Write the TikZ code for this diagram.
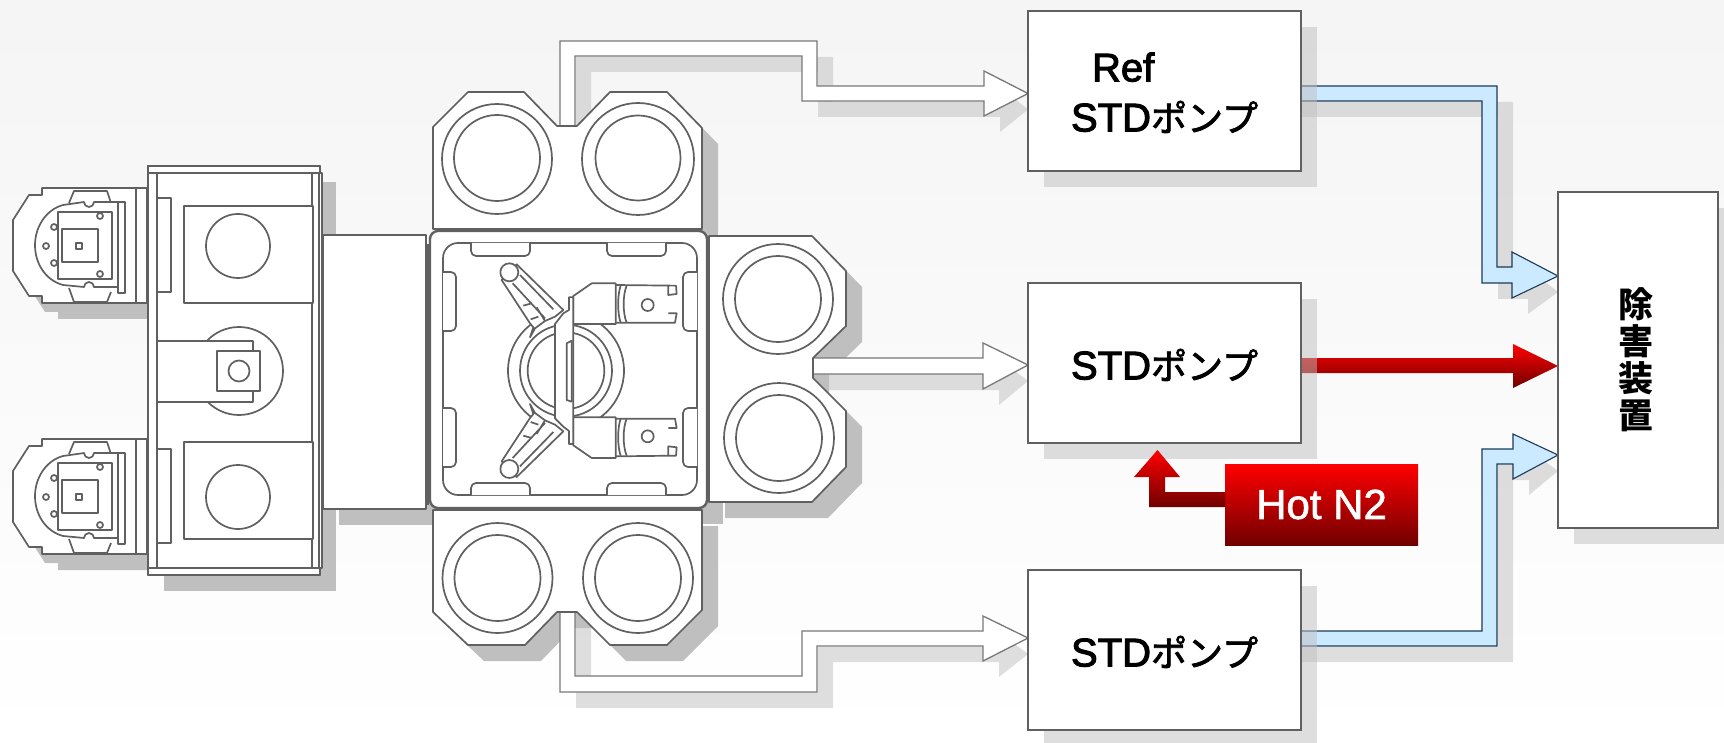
\documentclass[tikz,border=0pt]{standalone}
\usepackage{fontspec}
\usetikzlibrary{calc}
\setmainfont{Liberation Sans}
\newfontfamily\jpf{Noto Sans CJK JP}
\newfontfamily\jpm[FakeBold=2.2]{Noto Sans CJK JP}
\newfontfamily\latf[FakeBold=2.5]{Liberation Sans}
\newfontfamily\hotf[FakeBold=1.5]{Liberation Sans}
\definecolor{shgray}{HTML}{BFBFBF}
\definecolor{ml}{HTML}{606060}
\definecolor{bluef}{HTML}{CBE9FF}
\definecolor{bluel}{HTML}{1C3A58}
\definecolor{arrl}{HTML}{787878}
\definecolor{darkr}{HTML}{700000}
\pgfdeclarelayer{back}
\pgfdeclarelayer{arrowsh}
\pgfdeclarelayer{machsh}
\pgfdeclarelayer{arr}
\pgfdeclarelayer{boxsh}
\pgfsetlayers{back,arrowsh,machsh,arr,boxsh,main}
\tikzset{
  mach/.style={draw=ml,line width=.85pt,fill=white,line join=round},
  machthick/.style={draw=ml,line width=1.2pt,fill=white,line join=round},
  machshadow/.style={fill=shgray,shift={(16,16)}},
  softfill/.style={fill=shgray,fill opacity=.5},
  softshadow/.style={softfill,shift={(16,16)}},
  pumpbox/.style={draw=ml,line width=1pt,fill=white,minimum width=136.5pt,minimum height=80pt,inner sep=0pt,outer sep=0pt,align=left,font=\fontsize{20}{25}\selectfont},
  singlelabel/.style={text height=16.4pt,text depth=0pt},
  whitearrow/.style={draw=arrl,line width=.65pt,fill=white,line join=miter},
  bluearrow/.style={draw=bluel,line width=.55pt,fill=bluef,line join=miter},
  redarrow/.style={top color=red,bottom color=darkr,draw=none},
}
\newcommand\pumplabel{{\latf STD}{\jpm\fontsize{18}{25}\selectfont ポンプ}}
% machine outlines
\newcommand\topch[1]{\path[#1] (433,229)--(433,127)--(468,92)--(524,92)--(557,126)--(577,126)--(610,92)--(667,92)--(702,128)--(702,229)--cycle;}
\newcommand\rightch[1]{\path[#1] (709,236)--(812,236)--(846,271)--(846,326)--(813,358)--(813,378)--(846,411)--(846,467)--(812,502)--(709,502)--cycle;}
\newcommand\botch[1]{\path[#1] (433,510)--(433,612)--(468,645)--(525,645)--(557,612)--(577,612)--(610,645)--(667,645)--(702,610)--(702,510)--cycle;}
\newcommand\unitout[2]{\path[#1] (42,#2+7)--(29,#2+7)--(13,#2+32)--(13,#2+83)--(29,#2+108)--(42,#2+108)--(42,#2+115)--(147,#2+115)--(147,#2)--(42,#2)--cycle;}
% load port unit; #1 = top y of its frame
\newcommand\unitdetail[1]{%
  \begin{scope}[shift={(0,#1)}]
    \path[mach] (69,15)--(74,3)--(107,3)--(111,15);
    \path[mach] (69,100)--(74,114)--(107,114)--(111,104);
    \path[mach] (136,0)--(136,115);
    \path[mach] (118,14)--(94,14) arc[start angle=0,end angle=180,radius=5]--(63,17) .. controls (45,22) and (35,40) .. (35,57) .. controls (35,75) and (45,92) .. (63,97)--(84,99) arc[start angle=180,end angle=360,radius=5]--(118,99)--cycle;
    \path[mach] (118,14) rectangle (125,105);
    \path[mach] (58,24) rectangle (112,91);
    \path[mach] (62,41) rectangle (98,74);
    \path[mach] (76,55) rectangle (82,61);
    \path[mach] (100,28) circle[radius=3];
    \path[mach] (54,39) circle[radius=3];
    \path[mach] (46,58) circle[radius=3];
    \path[mach] (54,75) circle[radius=3];
    \path[mach] (100,86) circle[radius=3];
  \end{scope}}
% arm assembly in a frame magnified 3x around the transfer chamber
\newcommand\armhalf{%
  \path[mach] (290,133)--(430,270)--(405,290)--(375,303)--(345,325)--(330,352)--(340,322)--(330,310)--(245,180)--cycle;
  \path[mach,fill=none] (300,165)--(400,268) (278,190)--(375,295) (375,303)--(350,262);
  \path[mach,fill=none] (310,257)--(335,250) (332,298)--(355,290);
  \path[mach] (268,157) circle[radius=27];
  \path[mach] (460,228)--(515,190)--(587,190)--(587,312)--(460,312)--cycle;
  \path[mach] (587,195)--(768,197)--(770,222)--(745,225)--(745,200) (745,280)--(770,280)--(765,308)--(587,308);
  \path[mach,fill=none] (620,197) .. controls (608,225) and (608,280) .. (620,308);
  \path[mach,fill=none] (602,197) .. controls (592,225) and (592,280) .. (602,308);
  \path[mach] (683,255) circle[radius=18];
}
\begin{document}
\begin{tikzpicture}[x=0.5pt,y=-0.5pt]
\useasboundingbox (0,0) rectangle (1724,743);
\begin{pgfonlayer}{back}
  \shade[top color=black!4,bottom color=white] (0,0) rectangle (1724,743);
\end{pgfonlayer}

% ---- nodes
\node[pumpbox] (ref) at (1164.5,91) {\rule{0pt}{16.2pt}\hspace*{10.5pt}\latf Ref\\\pumplabel};
\node[pumpbox,singlelabel] (std) at (1164.5,363) {\pumplabel};
\node[pumpbox,singlelabel] (stdb) at (1164.5,650) {\pumplabel};
\node[pumpbox,minimum width=80pt,minimum height=168pt,align=center,font=\jpf\bfseries\fontsize{17.5}{18.5}\selectfont] (abate) at (1638,360)
  {\hspace*{-2pt}除\\\hspace*{-2pt}害\\\hspace*{-2pt}装\\\hspace*{-2pt}置};
\node[redarrow,minimum width=96.5pt,minimum height=40.5pt,inner sep=0pt,outer sep=0pt,text=white,font=\hotf\fontsize{21}{25}\selectfont] (hot) at (1321.5,504.5) {Hot N2};

\begin{pgfonlayer}{boxsh}
  \foreach \n in {ref,std,stdb,abate}
    \fill[softfill] ($(\n.south west)+(16,16)$) rectangle ($(\n.north east)+(16,16)$);
\end{pgfonlayer}

% ---- machine shadows
\begin{pgfonlayer}{machsh}
  \topch{machshadow}\rightch{machshadow}\botch{machshadow}
  \unitout{machshadow}{188}\unitout{machshadow}{439}
  \fill[machshadow] (148,166) rectangle (320,575);
  \fill[machshadow] (323,235) rectangle (428,509);
  \fill[machshadow] (430,231) rectangle (707,508);
\end{pgfonlayer}

% ---- load ports
\unitout{mach}{188}\unitdetail{188}
\unitout{mach}{439}\unitdetail{439}

% ---- load lock module
\path[mach] (148,166) rectangle (320,575);
\path[mach] (148,166) rectangle (320,173);
\path[mach] (148,568) rectangle (320,575);
\path[mach] (157,173) rectangle (312,568);
\path[machthick] (319,173) rectangle (322,568);
\path[mach] (157,198) rectangle (171,292);
\path[mach] (157,449) rectangle (171,543);
\path[mach] (184,206) rectangle (313,303);
\path[mach] (184,442) rectangle (313,539);
\path[mach] (238,246) circle[radius=32];
\path[mach] (238,497) circle[radius=32];
\path[mach] (239,371) circle[radius=44];
\path[mach] (157,341) rectangle (253,402);
\path[mach] (217,351) rectangle (260,391);
\path[mach] (239,371) circle[radius=10.5];

% ---- transfer passage
\path[mach] (323,235) rectangle (426,509);
\path[mach,fill=none] (428,244)--(428,505);

% ---- chambers
\topch{mach}
\path[mach] (497,159) circle[radius=55];
\path[mach] (497,158) circle[radius=43];
\path[mach] (638,159) circle[radius=56];
\path[mach] (638,158) circle[radius=42.5];
\rightch{mach}
\path[mach] (778,299) circle[radius=55];
\path[mach] (778,299) circle[radius=43];
\path[mach] (779,438) circle[radius=55];
\path[mach] (779,438) circle[radius=43];
\botch{mach}
\path[mach] (497.5,578) circle[radius=55];
\path[mach] (497.5,578) circle[radius=43];
\path[mach] (638,578) circle[radius=55];
\path[mach] (638,578) circle[radius=43];

% ---- transfer chamber
\path[machthick,rounded corners=4pt] (430,231) rectangle (707,508);
\path[mach,rounded corners=7.5pt] (443,243) rectangle (697,495);
\foreach \xa/\xb in {471/530,607/666}{
  \path[mach,rounded corners=2.5pt] (\xa,243)--(\xa,256)--(\xb,256)--(\xb,243);
  \path[mach,rounded corners=2.5pt] (\xa,495)--(\xa,483)--(\xb,483)--(\xb,495);
}
\foreach \ya/\yb in {272/331,408/467}{
  \path[mach,rounded corners=2.5pt] (443,\ya)--(456,\ya)--(456,\yb)--(443,\yb);
  \path[mach,rounded corners=2.5pt] (697,\ya)--(683,\ya)--(683,\yb)--(697,\yb);
}
\begin{scope}[shift={(420,220)},scale=1/3]
  \begin{scope}
    \clip (200,250) rectangle (338,660) (460,312) rectangle (700,592);
    \path[mach,fill=none] (438,452) circle[radius=174];
  \end{scope}
  \path[mach] (438,452) circle[radius=138];
  \path[mach] (438,452) circle[radius=115];
  \armhalf
  \begin{scope}[yscale=-1,shift={(0,-904)}]
    \armhalf
  \end{scope}
  \path[mach] (405,312)--(430,280)--(447,270)--(447,232)--(460,232)--(460,672)--(447,672)--(447,633)--(430,620)--(405,595)--cycle;
  \path[mach] (440,370)--(455,362)--(455,545)--(440,540)--cycle;
\end{scope}

% ---- arrow geometry; the +(0,0) makes calc apply a scope's shift to named points too
\newcommand\arrtop[1]{\path[#1] (560,126)--(560,41)--(817,41)--(817,86)--(984,86)--(984,71)--($(ref.west |- 0,93.5)+(0,0)$)--(984,116)--(984,101)--(802,101)--(802,56)--(575,56)--(575,126)--cycle;}
\newcommand\arrmid[1]{\path[#1] (813,358)--(983,358)--(983,343)--($(std.west |- 0,365)+(0,0)$)--(983,389)--(983,374)--(813,374)--cycle;}
\newcommand\arrbot[1]{\path[#1] (560,612)--(560,692)--(817,692)--(817,646)--(983,646)--(983,661)--($(stdb.west |- 0,638)+(0,0)$)--(983,616)--(983,631)--(802,631)--(802,676)--(575,676)--(575,612)--cycle;}
\newcommand\arrbluetop[1]{\path[#1] ($(ref.east |- 0,86)+(0,0)$)--(1497,86)--(1497,267)--(1512,267)--(1512,252)--($(abate.west |- 0,276)+(0,0)$)--(1512,298)--(1512,283)--(1482,283)--(1482,101)--($(ref.east |- 0,101)+(0,0)$)--cycle;}
\newcommand\arrbluebot[1]{\path[#1] ($(stdb.east |- 0,646)+(0,0)$)--(1497,646)--(1497,464)--(1513,464)--(1513,479)--($(abate.west |- 0,455)+(0,0)$)--(1513,434)--(1513,449)--(1482,449)--(1482,631)--($(stdb.east |- 0,631)+(0,0)$)--cycle;}
\newcommand\arrred[1]{\path[#1] (std.east |- 0,358)--(1513,358)--(1513,344)--(abate.west |- 0,366)--(1513,388)--(1513,373)--(std.east |- 0,373)--cycle;}

\begin{pgfonlayer}{arrowsh}
  \arrtop{softshadow}\arrmid{softshadow}\arrbot{softshadow}
  \arrbluetop{softshadow}\arrbluebot{softshadow}
\end{pgfonlayer}
\begin{pgfonlayer}{arr}
  \arrtop{whitearrow}\arrmid{whitearrow}\arrbot{whitearrow}
  \arrbluetop{bluearrow}\arrbluebot{bluearrow}
  \arrred{redarrow}
\end{pgfonlayer}

% ---- Hot N2 feed
\path[redarrow] (hot.west |- 0,492)--(1165,492)--(1165,477)--(1180,477)--(1157.5,450)--(1134,477)--(1149,477)--(1149,507)--(hot.west |- 0,507)--cycle;
\end{tikzpicture}
\end{document}
